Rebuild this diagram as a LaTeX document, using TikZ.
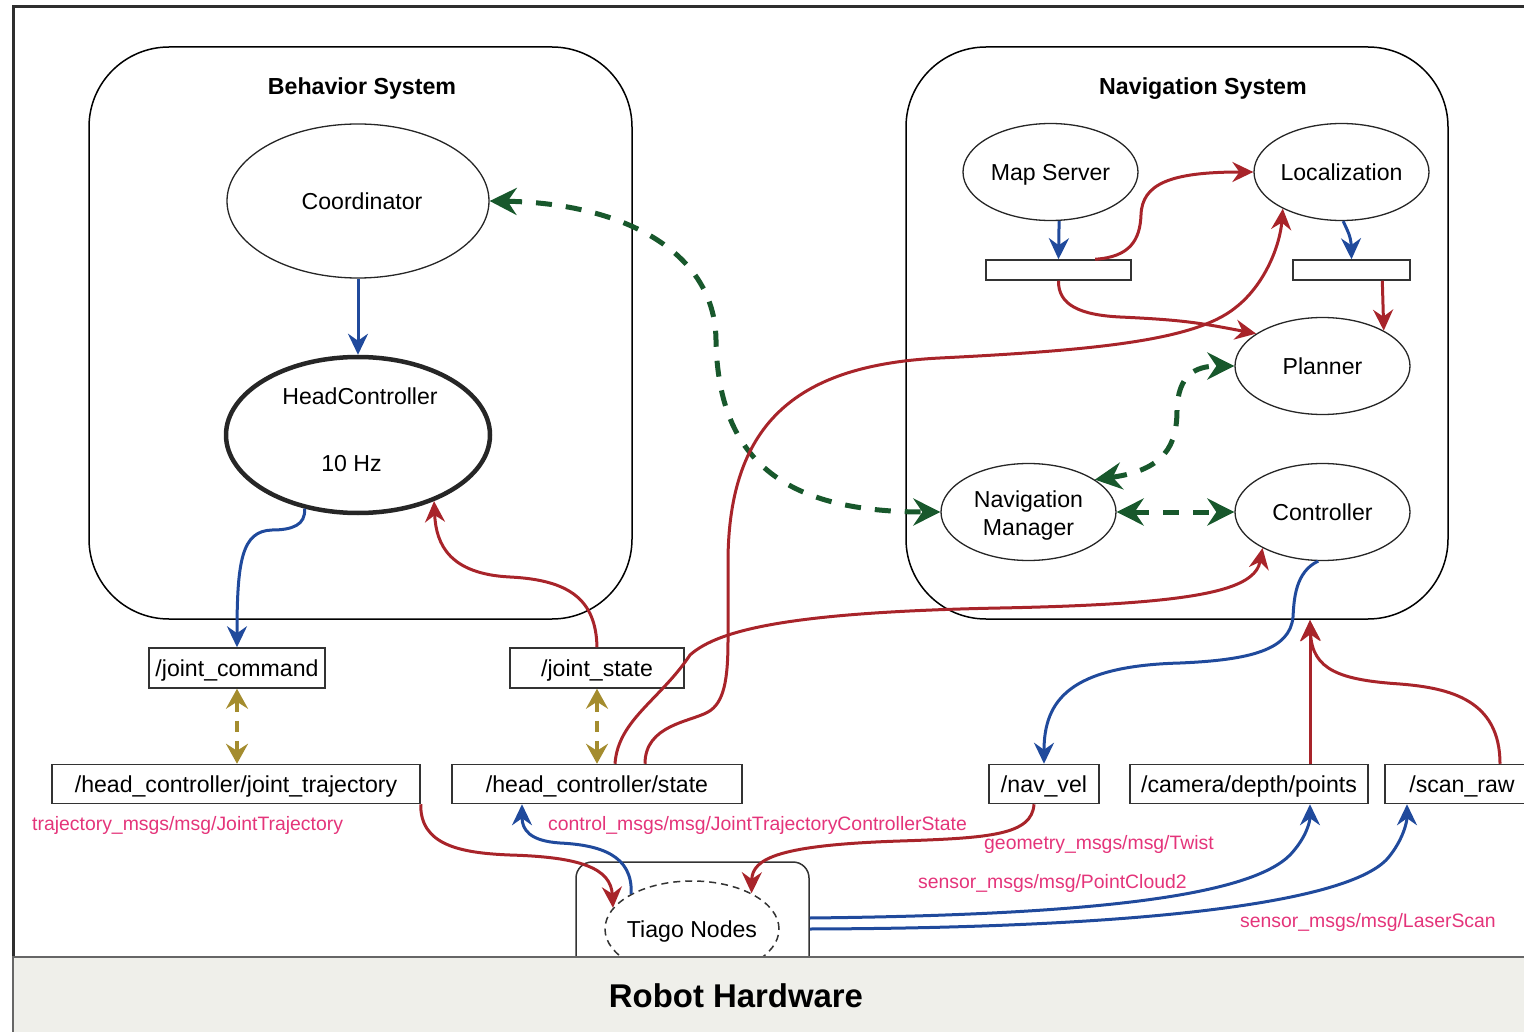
\documentclass[tikz,border=0pt]{standalone}
\usepackage{fontspec}
\setmainfont{Liberation Sans}
\usetikzlibrary{shapes.geometric,arrows.meta,calc}
\definecolor{cred}{RGB}{168,36,42}
\definecolor{cblue}{RGB}{32,74,156}
\definecolor{cgreen}{RGB}{24,88,44}
\definecolor{colive}{RGB}{164,140,46}
\definecolor{cpink}{RGB}{228,52,122}
\definecolor{bandc}{RGB}{239,239,234}
\newcommand\nfont{\fontsize{23.1}{28}\selectfont}
\newcommand\tfont{\fontsize{23.2}{28}\selectfont\bfseries}
\newcommand\pfont{\fontsize{19.4}{23}\selectfont}
\newcommand\hfont{\fontsize{32.9}{38}\selectfont\bfseries}
\begin{document}
\begin{tikzpicture}[x=1pt,y=-1pt,
  one/.style={text height=16.84pt, text depth=0.3pt},
  oneT/.style={text height=16.9pt, text depth=0.3pt},
  oneP/.style={text height=14.14pt, text depth=0.3pt},
  oneH/.style={text height=24pt, text depth=0.3pt},
  ell/.style={ellipse, draw=black!85, line width=1.3pt, fill=white, minimum width=175pt, minimum height=97pt, inner sep=0pt, inner xsep=-6pt, font=\nfont, align=center},
  topic/.style={rectangle, draw=black!80, line width=1.5pt, fill=white, minimum height=39pt, inner sep=0pt, font=\nfont, one},
  barbox/.style={rectangle, draw=black!80, line width=1.5pt, fill=white, minimum height=20pt, inner sep=0pt},
  sys/.style={rectangle, rounded corners=80pt, draw=black, line width=1.5pt, inner sep=0pt},
  rl/.style={draw=cred, line width=3pt, -{Stealth[length=21pt,width=20pt,inset=7pt]}},
  bl/.style={draw=cblue, line width=3pt, -{Stealth[length=21pt,width=20pt,inset=7pt]}},
  gr/.style={draw=cgreen, line width=5pt, dash pattern=on 16pt off 14pt, {Stealth[length=27pt,width=27pt,inset=9pt]}-{Stealth[length=27pt,width=27pt,inset=9pt]}},
  ol/.style={draw=colive, line width=4pt, dash pattern=on 11pt off 9pt, {Stealth[length=20pt,width=22pt,inset=7pt]}-{Stealth[length=20pt,width=22pt,inset=7pt]}},
  pl/.style={text=cpink, font=\pfont, anchor=west, inner sep=0pt, oneP},
  ttl/.style={font=\tfont, inner sep=0pt, oneT}
]
\path[use as bounding box] (0,0) rectangle (1524,1032);
\clip (0,0) rectangle (1524,1032);

% outer frame
\draw[black!82, line width=3pt] (13,1045) -- (13,7) -- (1545,7);

% system containers
\node[sys, minimum width=543pt, minimum height=572pt] (behsys) at (360.5,333) {};
\node[sys, minimum width=542pt, minimum height=572pt] (navsys) at (1177,333) {};
\node[ttl] (behtitle) at (362,86) {Behavior System};
\node[ttl] (navtitle) at (1203,86) {Navigation System};

% Tiago container
\node[rectangle, rounded corners=16pt, draw=black!80, line width=1.5pt, fill=white, minimum width=233pt, minimum height=118pt, inner sep=0pt] (tiagobox) at (692.5,921) {};
\node[ellipse, draw=black!80, line width=1.5pt, dash pattern=on 7pt off 5pt, minimum width=174pt, minimum height=96pt, inner sep=0pt, inner xsep=-8pt, font=\nfont, one] (tiago) at (692,929) {Tiago Nodes};

% hardware band
\fill[bandc] (13,957) rectangle (1545,1045);
\draw[black!60, line width=2.5pt] (13,1045) -- (13,957) -- (1545,957);
\node[font=\hfont, inner sep=0pt, oneH] (hw) at (736,996) {Robot Hardware};

% behavior nodes
\node[ell, one, minimum width=262pt, minimum height=154pt] (coord) at (358,201) {\hspace*{8pt}Coordinator};
\node[ell, line width=4.5pt, minimum width=264pt, minimum height=156pt] (hc) at (358,435) {\hspace*{4pt}HeadController\\[38.5pt]\hspace*{-13pt}10 Hz\rule[-10.3pt]{0pt}{10pt}};

% navigation nodes
\node[ell, one] (ms) at (1050.5,172) {Map Server};
\node[ell, one] (loc) at (1341.5,172) {Localization};
\node[barbox, minimum width=145pt] (mapbar) at (1058.5,270) {};
\node[barbox, minimum width=117pt] (locbar) at (1351.5,270) {};
\node[ell, one] (planner) at (1322.5,366) {Planner};
\node[ell] (nm) at (1028.5,512) {\rule{0pt}{23.5pt}Navigation\\Manager};
\node[ell, one] (ctrl) at (1322.5,512) {Controller};

% topics
\node[topic, minimum width=176pt, minimum height=40pt] (jc) at (237,668) {/joint\_command};
\node[topic, minimum width=174pt, minimum height=40pt] (js) at (597,668) {/joint\_state};
\node[topic, minimum width=368pt] (hjt) at (236,784) {/head\_controller/joint\_trajectory};
\node[topic, minimum width=290pt] (hcs) at (597,784) {/head\_controller/state};
\node[topic, minimum width=110pt] (nv) at (1044,784) {/nav\_vel};
\node[topic, minimum width=238pt] (cam) at (1249,784) {/camera/depth/points};
\node[topic, minimum width=154pt] (scan) at (1462,784) {/scan\_raw};

% message type labels
\node[pl] (l1) at (32,824) {trajectory\_msgs/msg/JointTrajectory};
\node[pl] (l2) at (548,824) {control\_msgs/msg/JointTrajectoryControllerState};
\node[pl] (l3) at (984,843) {geometry\_msgs/msg/Twist};
\node[pl] (l4) at (918,882) {sensor\_msgs/msg/PointCloud2};
\node[pl] (l5) at (1240,921) {sensor\_msgs/msg/LaserScan};

\coordinate (navin) at (1310,620);

% --- connectors ---
\draw[bl] (coord.south) -- (hc.north);
\draw[bl] (hc.234) .. controls (306,525) and (292,530) .. (272,530) .. controls (242,531) and (237,560) .. (jc.north);
\draw[rl] (js.north) .. controls (596,600) and (570,580) .. (510,577) .. controls (450,574) and (436,545) .. (hc.319);
\draw[ol] (jc.south) -- (jc.south |- hjt.north);
\draw[ol] (js.south) -- (hcs.north);

\draw[gr] (coord.east) .. controls (620,203) and (715,250) .. (716,340) .. controls (718,465) and (790,512) .. (nm.west);
\draw[gr] (nm.26) .. controls (1165,470) and (1177,445) .. (1177,410) .. controls (1178,375) and (1195,366) .. (planner.west);
\draw[gr] (nm.east) -- (ctrl.west);

\draw[bl] (ms.-80) -- (mapbar.north);
\draw[bl] (loc.-88) .. controls (1347,230) and (1351,236) .. (locbar.north);
\draw[rl] ($(mapbar.north)!0.5!(mapbar.north east)$) .. controls (1130,257) and (1140,240) .. (1141,215) .. controls (1142,184) and (1170,172) .. (loc.west);
\draw[rl] (mapbar.south) .. controls (1058,305) and (1080,315) .. (1120,317) .. controls (1185,320) and (1200,323) .. (planner.154);
\draw[rl] ($(locbar.south)!0.52!(locbar.south east)$) -- (planner.30);

\draw[rl] ($(hcs.north)+(48,0)$) .. controls (645,725) and (690,722) .. (708,712) .. controls (724,703) and (728,680) .. (728,640) -- (728,560) .. controls (729,420) and (800,365) .. (940,358) .. controls (1100,350) and (1195,340) .. (1235,308) .. controls (1265,285) and (1280,245) .. (loc.212);
\draw[rl] ($(hcs.north)+(18,0)$) .. controls (618,720) and (660,700) .. (690,655) .. controls (720,628) and (800,612) .. (1000,608) .. controls (1200,604) and (1255,590) .. (ctrl.211);

\draw[bl] (ctrl.-95) .. controls (1295,572) and (1294,600) .. (1293,617) .. controls (1290,650) and (1250,660) .. (1180,663) .. controls (1070,666) and (1044,700) .. (nv.north);
\draw[rl] ($(cam.north)+(61,0)$) -- (navin);
\draw[rl] ($(scan.north)+(38,0)$) .. controls (1500,700) and (1450,688) .. (1400,684) .. controls (1340,680) and (1312,670) .. (navin);

\draw[rl] (hjt.south east) .. controls (420,845) and (460,853) .. (510,855) .. controls (580,857) and (611,868) .. (tiago.165);
\draw[bl] (tiago.150) .. controls (633,855) and (600,845) .. (560,843) .. controls (530,841) and (522,830) .. ($(hcs.south)+(-75,0)$);
\draw[rl] ($(nv.south)+(-10,0)$) .. controls (1032,835) and (990,838) .. (900,841) .. controls (780,845) and (752,858) .. (tiago.31);
\draw[bl] ($(tiagobox.east)+(0,-3)$) .. controls (1100,915) and (1250,895) .. (1290,855) .. controls (1306,838) and (1310,822) .. ($(cam.south)+(61,0)$);
\draw[bl] ($(tiagobox.east)+(0,8)$) .. controls (1150,928) and (1350,902) .. (1388,858) .. controls (1403,840) and (1407,822) .. ($(scan.south)+(-55,0)$);
\end{tikzpicture}
\end{document}
